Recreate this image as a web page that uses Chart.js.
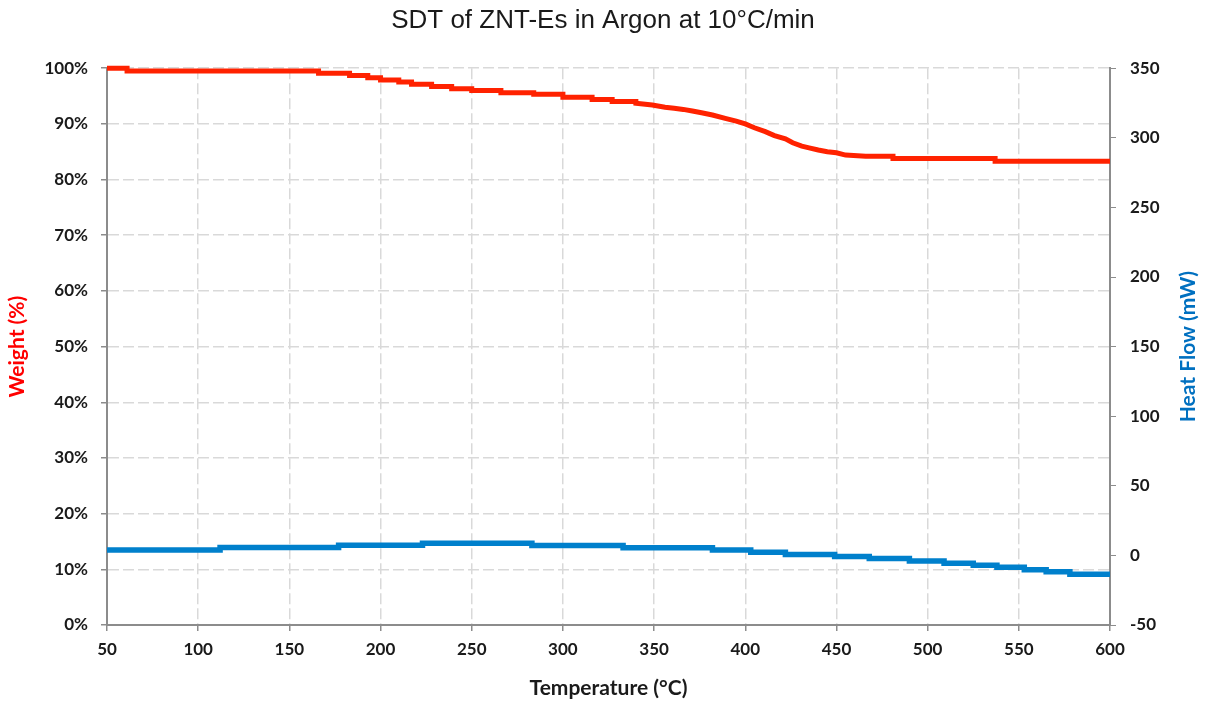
<!DOCTYPE html>
<html>
<head>
<meta charset="utf-8">
<script src="https://cdn.jsdelivr.net/npm/chart.js@4"></script>
<style>
    html, body { margin: 0; padding: 0; background: #fff; }
    #wrap { width: 1206px; height: 704px; }
</style>
</head>
<body>
<div id="wrap"><canvas id="sdtChart" width="1206" height="704"></canvas></div>
<script>
// ===== DATA =====
// weight curve: flat levels are given with both corners, the 350-450 drop as read points
const weightTemps = [50, 61, 61, 166, 166, 183, 183, 193, 193, 200, 200, 210, 210, 217, 217, 228, 228, 239, 239, 250, 250, 266, 266, 284, 284, 300, 300, 316, 316, 327, 327, 340, 340, 349, 356, 361, 366, 371, 376, 382, 389, 395, 400, 405, 411, 416, 422, 426, 431, 435, 440, 445, 450, 455, 466, 481, 481, 537, 537, 600];
const weightValues = [100, 100, 99.5, 99.5, 99.1, 99.1, 98.7, 98.7, 98.3, 98.3, 97.9, 97.9, 97.5, 97.5, 97.1, 97.1, 96.7, 96.7, 96.3, 96.3, 96.0, 96.0, 95.6, 95.6, 95.3, 95.3, 94.8, 94.8, 94.4, 94.4, 94.0, 94.0, 93.7, 93.4, 93.0, 92.8, 92.6, 92.3, 92.0, 91.6, 91.0, 90.5, 90.0, 89.3, 88.6, 87.9, 87.3, 86.6, 86.0, 85.7, 85.3, 85.0, 84.8, 84.4, 84.2, 84.2, 83.8, 83.8, 83.3, 83.3];

// heat flow: start temperature of each level
const heatTemps = [50, 112, 177, 223, 283, 333, 382, 403, 422, 449, 468, 490, 509, 525, 538, 553, 565, 578, 589, 600];
const heatValues = [2.2, 3.9, 5.6, 7.3, 8.8, 7.2, 5.5, 3.8, 2.3, 0.6, -0.8, -2.3, -4.0, -5.6, -7.1, -8.5, -10.3, -11.8, -13.6, -13.6];

const tempTicks = [50, 100, 150, 200, 250, 300, 350, 400, 450, 500, 550, 600];
const weightTicks = [0, 10, 20, 30, 40, 50, 60, 70, 80, 90, 100];
const heatTicks = [-50, 0, 50, 100, 150, 200, 250, 300, 350];

const tickFont = { family: "Lato", size: 17, weight: "bold" };
const axisTitleFont = { family: "Lato", size: 21, weight: "bold" };
const gridGray = "#d9d9d9";
const axisGray = "#8c8c8c";

// ===== RIGHT AXIS TITLE (reads bottom to top) =====
const rightTitle = {
    id: "rightTitle",
    afterDraw(chart) {
        const ctx = chart.ctx;
        const area = chart.chartArea;
        ctx.save();
        ctx.translate(1188, (area.top + area.bottom) / 2);
        ctx.rotate(-Math.PI / 2);
        ctx.font = "bold 21px Lato";
        ctx.fillStyle = "#0070c0";
        ctx.textAlign = "center";
        ctx.textBaseline = "middle";
        ctx.fillText("Heat Flow (mW)", 0, 0);
        ctx.restore();
    }
};

const ctx = document.getElementById("sdtChart").getContext("2d");

new Chart(ctx, {
    type: "line",
    data: {
        datasets: [
            {
                label: "Weight (%)",
                data: weightTemps.map((t, i) => ({ x: t, y: weightValues[i] })),
                borderColor: "#ff2200",
                borderWidth: 5,
                pointRadius: 0,
                tension: 0,
                clip: { left: 0, top: 6, right: 0, bottom: 0 },
                yAxisID: "y"
            },
            {
                label: "Heat Flow (mW)",
                data: heatTemps.map((t, i) => ({ x: t, y: heatValues[i] })),
                borderColor: "#0080cc",
                borderWidth: 5.5,
                pointRadius: 0,
                stepped: "after",
                yAxisID: "y1"
            }
        ]
    },
    options: {
        responsive: false,
        animation: false,
        layout: { padding: 0 },
        plugins: {
            legend: { display: false },
            tooltip: { enabled: false },
            title: {
                display: true,
                text: "SDT of ZNT-Es in Argon at 10\u00b0C/min",
                color: "#1a1a1a",
                font: { family: "Liberation Sans", size: 26, weight: "normal", lineHeight: 1.2 },
                padding: { top: 5, bottom: 32 }
            }
        },
        scales: {
            x: {
                type: "linear",
                min: 50,
                max: 600,
                afterBuildTicks: s => { s.ticks = tempTicks.map(v => ({ value: v })); },
                afterFit: s => { s.height = 79; },
                ticks: { color: "#1a1a1a", font: tickFont, padding: 8, maxRotation: 0 },
                grid: { color: gridGray, tickColor: axisGray, tickLength: 6, lineWidth: 1.5 },
                border: { display: true, color: axisGray, width: 2, dash: [11, 4] },
                title: {
                    display: true,
                    text: "Temperature (\u00b0C)",
                    color: "#1a1a1a",
                    font: axisTitleFont,
                    padding: { top: 0, bottom: 3 }
                }
            },
            y: {
                position: "left",
                min: 0,
                max: 100,
                afterBuildTicks: s => { s.ticks = weightTicks.map(v => ({ value: v })); },
                afterFit: s => { s.width = 107; },
                ticks: { color: "#1a1a1a", font: tickFont, padding: 13, callback: v => v + "%" },
                grid: { color: gridGray, tickColor: axisGray, tickLength: 6, lineWidth: 1.5 },
                border: { display: true, color: axisGray, width: 2, dash: [11, 4] },
                title: {
                    display: true,
                    text: "Weight (%)",
                    color: "#ff0000",
                    font: axisTitleFont,
                    padding: { top: 5, bottom: 0 }
                }
            },
            y1: {
                position: "right",
                min: -50,
                max: 350,
                afterBuildTicks: s => { s.ticks = heatTicks.map(v => ({ value: v })); },
                afterFit: s => { s.width = 96; },
                ticks: { color: "#1a1a1a", font: tickFont, padding: 14 },
                grid: { drawOnChartArea: false, tickColor: axisGray, tickLength: 6 },
                border: { display: true, color: axisGray, width: 2 }
            }
        }
    },
    plugins: [rightTitle]
});
</script>
</body>
</html>
